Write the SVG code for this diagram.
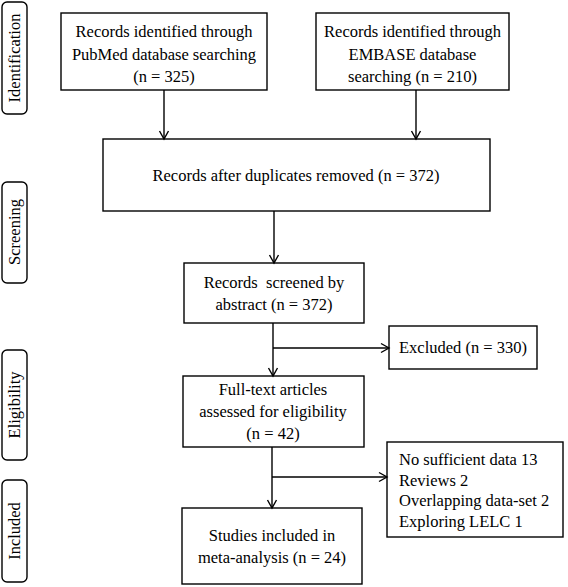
<svg xmlns="http://www.w3.org/2000/svg" width="568" height="587" viewBox="0 0 568 587">
<style>
.box{fill:#fff;stroke:#000;stroke-width:1.4}
.con{stroke:#000;stroke-width:1.4;fill:none}
</style>
<defs>
<marker id="ah" markerUnits="userSpaceOnUse" markerWidth="12" markerHeight="12" refX="9" refY="5" orient="auto" overflow="visible">
<path d="M1,0.5 L9,5 L1,9.5" fill="none" stroke="#000" stroke-width="1.4"/>
</marker>
</defs>
<rect width="568" height="587" fill="#fff"/>
<g font-size="16.5">
<g id="side-identification"><rect class="box" x="2" y="2" width="25" height="112" rx="5"/><text font-family="'Liberation Serif'" text-anchor="middle" transform="translate(20,58) rotate(-90)">Identification</text></g>
<g id="side-screening"><rect class="box" x="2" y="182" width="25" height="101" rx="5"/><text font-family="'Liberation Serif'" text-anchor="middle" transform="translate(20,232) rotate(-90)">Screening</text></g>
<g id="side-eligibility"><rect class="box" x="2" y="350" width="25" height="110" rx="5"/><text font-family="'Liberation Serif'" text-anchor="middle" transform="translate(20,405) rotate(-90)">Eligibility</text></g>
<g id="side-included"><rect class="box" x="2" y="480" width="25" height="102" rx="5"/><text font-family="'Liberation Serif'" text-anchor="middle" transform="translate(20,531) rotate(-90)">Included</text></g>
<g id="pubmed"><rect class="box" x="61" y="13" width="206" height="77"/><text font-family="'Liberation Serif'" text-anchor="middle" x="164" y="37">Records identified through</text><text font-family="'Liberation Serif'" text-anchor="middle" x="164" y="60">PubMed database searching</text><text font-family="'Liberation Serif'" text-anchor="middle" x="164" y="82">(n = 325)</text></g>
<g id="embase"><rect class="box" x="316" y="13" width="193" height="77"/><text font-family="'Liberation Serif'" text-anchor="middle" x="412.5" y="37">Records identified through</text><text font-family="'Liberation Serif'" text-anchor="middle" x="412.5" y="60">EMBASE database</text><text font-family="'Liberation Serif'" text-anchor="middle" x="412.5" y="82">searching (n = 210)</text></g>
<g id="duplicates"><rect class="box" x="103" y="139" width="387" height="72"/><text font-family="'Liberation Serif'" text-anchor="middle" x="296" y="181">Records after duplicates removed (n = 372)</text></g>
<g id="screened"><rect class="box" x="184" y="263" width="180" height="60"/><text font-family="'Liberation Serif'" text-anchor="middle" x="274" y="288" xml:space="preserve">Records  screened by</text><text font-family="'Liberation Serif'" text-anchor="middle" x="274" y="310">abstract (n = 372)</text></g>
<g id="excluded"><rect class="box" x="389" y="326" width="148" height="43"/><text font-family="'Liberation Serif'" text-anchor="middle" x="463" y="353">Excluded (n = 330)</text></g>
<g id="fulltext"><rect class="box" x="183" y="376" width="181" height="71"/><text font-family="'Liberation Serif'" text-anchor="middle" x="273" y="395">Full-text articles</text><text font-family="'Liberation Serif'" text-anchor="middle" x="273" y="417">assessed for eligibility</text><text font-family="'Liberation Serif'" text-anchor="middle" x="273" y="439">(n = 42)</text></g>
<g id="reasons"><rect class="box" x="387" y="442" width="176" height="95"/><text font-family="'Liberation Serif'" x="399" y="465">No sufficient data 13</text><text font-family="'Liberation Serif'" x="399" y="486">Reviews 2</text><text font-family="'Liberation Serif'" x="399" y="506">Overlapping data-set 2</text><text font-family="'Liberation Serif'" x="399" y="527">Exploring LELC 1</text></g>
<g id="included"><rect class="box" x="182" y="508" width="180" height="76"/><text font-family="'Liberation Serif'" text-anchor="middle" x="272" y="541">Studies included in</text><text font-family="'Liberation Serif'" text-anchor="middle" x="272" y="563">meta-analysis (n = 24)</text></g>
</g>
<g id="connectors">
<line class="con" x1="164" y1="90" x2="164" y2="139" marker-end="url(#ah)"/>
<line class="con" x1="416" y1="90" x2="416" y2="139" marker-end="url(#ah)"/>
<line class="con" x1="274" y1="211" x2="274" y2="263" marker-end="url(#ah)"/>
<line class="con" x1="273" y1="323" x2="273" y2="376" marker-end="url(#ah)"/>
<line class="con" x1="273" y1="348" x2="389" y2="348" marker-end="url(#ah)"/>
<line class="con" x1="272" y1="447" x2="272" y2="508" marker-end="url(#ah)"/>
<line class="con" x1="272" y1="477" x2="387" y2="477" marker-end="url(#ah)"/>
</g>
</svg>
